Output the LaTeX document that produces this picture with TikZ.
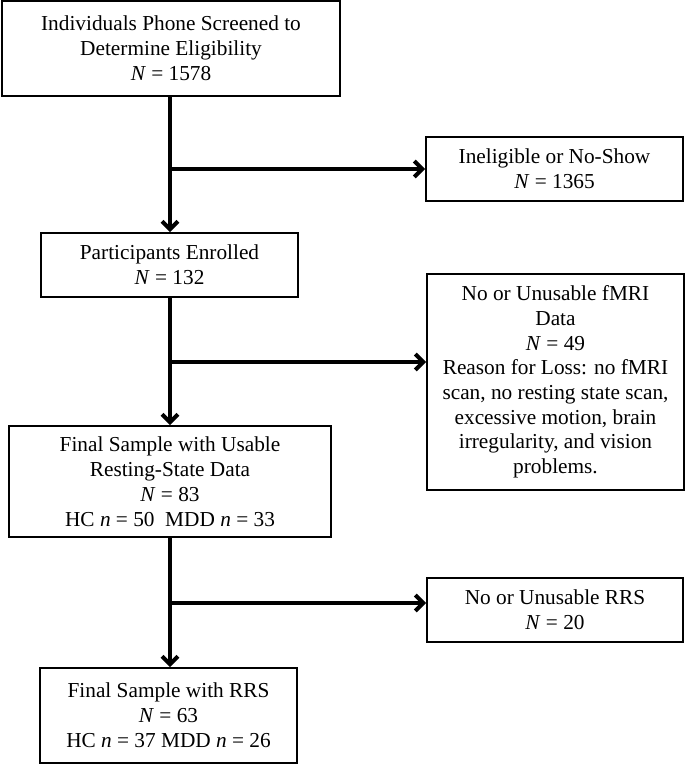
\documentclass[tikz,border=0pt]{standalone}
\usepackage{fontspec}
\setmainfont{Liberation Serif}
\usetikzlibrary{arrows.meta}
\begin{document}
\begin{tikzpicture}[x=1pt,y=-1pt,
  box/.style={draw=black, line width=1.8pt, align=center, inner sep=0pt,
    font=\fontsize{21.3}{25}\selectfont},
  arr/.style={line width=4pt, -{Straight Barb[length=8pt,width=16pt]}}]
\useasboundingbox (0,0) rectangle (685,765);
\node[box, minimum width=338pt, minimum height=95pt] (top) at (171,48.5)
  {Individuals Phone Screened to\\Determine Eligibility\\\textit{N} = 1578};
\node[box, minimum width=257pt, minimum height=64pt] (inel) at (554.5,169)
  {Ineligible or No-Show\\\textit{N} = 1365};
\node[box, minimum width=257pt, minimum height=64pt] (enrol) at (169.5,265)
  {Participants Enrolled\\\textit{N} = 132};
\node[box, minimum width=257pt, minimum height=216pt, font=\fontsize{21.3}{24.7}\selectfont] (fmri) at (555.5,382)
  {No or Unusable fMRI\\Data\\\textit{N} = 49\\Reason for Loss: no fMRI\\scan, no resting state scan,\\excessive motion, brain\\irregularity, and vision\\problems.};
\node[box, minimum width=322pt, minimum height=111pt] (final) at (170,481.5)
  {Final Sample with Usable\\Resting-State Data\\\textit{N} = 83\\HC \textit{n} = 50\ \ MDD \textit{n} = 33};
\node[box, minimum width=256pt, minimum height=64pt] (rrs) at (555,610)
  {No or Unusable RRS\\\textit{N} = 20};
\node[box, minimum width=257pt, minimum height=95pt] (last) at (168.5,715.5)
  {Final Sample with RRS\\\textit{N} = 63\\HC \textit{n} = 37 MDD \textit{n} = 26};
\coordinate (b1) at (170,169);
\coordinate (b2) at (170,362);
\coordinate (b3) at (170,603);
\draw[arr] (top.south -| b1) -- (enrol.north -| b1);
\draw[arr] (b1) -- (inel.west |- b1);
\draw[arr] (enrol.south -| b2) -- (final.north -| b2);
\draw[arr] (b2) -- (fmri.west |- b2);
\draw[arr] (final.south -| b3) -- (last.north -| b3);
\draw[arr] (b3) -- (rrs.west |- b3);
\end{tikzpicture}
\end{document}
